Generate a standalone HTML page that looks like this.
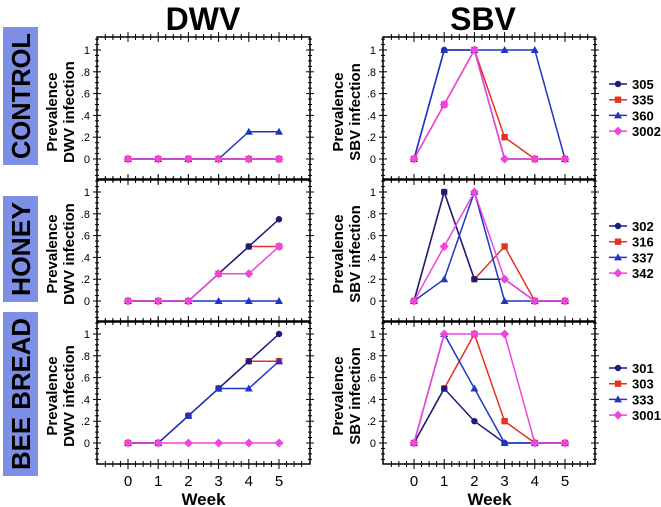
<!DOCTYPE html>
<html><head><meta charset="utf-8"><style>
body{margin:0;background:#fff;}
svg{display:block;font-family:"Liberation Sans",Arial,sans-serif;}
</style></head><body>
<svg id="c" width="661" height="507" viewBox="0 0 661 507"></svg>
<script>
const weeks=[0,1,2,3,4,5];
const yTicks=[0,0.2,0.4,0.6,0.8,1];
const yTickLabels=["0",".2",".4",".6",".8","1"];
const rowNames=["CONTROL","HONEY","BEE BREAD"];
const colNames=["DWV","SBV"];
const seriesColors=["#1c1c7e","#e3321f","#2136c4","#ee45de"];
const seriesMarkers=["circle","square","triangle","diamond"];
const legendNames=[["305","335","360","3002"],["302","316","337","342"],["301","303","333","3001"]];
const controlDWV=[[0,0,0,0,0,0],[0,0,0,0,0,0],[0,0,0,0,0.25,0.25],[0,0,0,0,0,0]];
const controlSBV=[[0,1,1,0,0,0],[0,0.5,1,0.2,0,0],[0,1,1,1,1,0],[0,0.5,1,0,0,0]];
const honeyDWV=[[0,0,0,0.25,0.5,0.75],[0,0,0,0.25,0.5,0.5],[0,0,0,0,0,0],[0,0,0,0.25,0.25,0.5]];
const honeySBV=[[0,1,0.2,0.2,0,0],[0,1,0.2,0.5,0,0],[0,0.2,1,0,0,0],[0,0.5,1,0.2,0,0]];
const breadDWV=[[0,0,0.25,0.5,0.75,1],[0,0,0.25,0.5,0.75,0.75],[0,0,0.25,0.5,0.5,0.75],[0,0,0,0,0,0]];
const breadSBV=[[0,0.5,0.2,0,0,0],[0,0.5,1,0.2,0,0],[0,1,0.5,0,0,0],[0,1,1,1,0,0]];
const data=[[controlDWV,controlSBV],[honeyDWV,honeySBV],[breadDWV,breadSBV]];
const drawOrder=[1,0,2,3];

const svg=document.getElementById('c');
const NS="http://www.w3.org/2000/svg";
function mk(tag,attrs,parent){const e=document.createElementNS(NS,tag);for(const k in attrs)e.setAttribute(k,attrs[k]);(parent||svg).appendChild(e);return e;}
const panelTops=[37,179,321];
const frameX=[[97,310],[383,595]];
const x0s=[128,414];
const wk=30.2;
function xs(c,w){return x0s[c]+w*wk;}
function ys(r,v){return panelTops[r]+122-v*109;}

function marker(g,type,x,y,col){
  let m;
  if(type==="circle")m=mk('circle',{cx:x,cy:y,r:3.2,fill:col},g);
  else if(type==="square")m=mk('rect',{x:x-3.2,y:y-3.2,width:6.4,height:6.4,fill:col},g);
  else if(type==="triangle")m=mk('polygon',{points:`${x},${y-4} ${x-4},${y+3} ${x+4},${y+3}`,fill:col},g);
  else m=mk('polygon',{points:`${x},${y-4.5} ${x+4.5},${y} ${x},${y+4.5} ${x-4.5},${y}`,fill:col},g);
  return m;
}

colNames.forEach((n,c)=>{
  const t=mk('text',{x:c?483:203,y:30,'font-size':32,'font-weight':'bold','text-anchor':'middle'});
  t.textContent=n;
  
  
});
const rowBoxes=[[27,165],[196,302],[312,476]];
rowNames.forEach((n,r)=>{
  const g=mk('g',{});
  
  
  const b=rowBoxes[r];
  mk('rect',{x:3,y:b[0],width:35,height:b[1]-b[0],fill:'#7e90e6'},g);
  const cy=(b[0]+b[1])/2;
  const t=mk('text',{x:30,y:cy,'font-size':26,'font-weight':'bold','text-anchor':'middle',textLength:b[1]-b[0]-12,lengthAdjust:'spacingAndGlyphs',transform:`rotate(-90 30 ${cy})`},g);
  t.textContent=n;
});

for(let r=0;r<3;r++){
  for(let c=0;c<2;c++){
    const g=mk('g',{});
    
    
    const top=panelTops[r],bot=top+143,L=frameX[c][0],R=frameX[c][1];
    mk('rect',{x:L,y:top,width:R-L,height:143,fill:'none',stroke:'#000','stroke-width':1.5},g);
    for(let w=-1;w<=6;w+=0.25){
      const x=xs(c,w); if(x<L+2||x>R-2)continue;
      const major=Math.abs(w-Math.round(w))<1e-6;
      const len=major?5:3;
      mk('line',{x1:x,y1:top-len,x2:x,y2:top+len,stroke:'#000','stroke-width':1},g);
      mk('line',{x1:x,y1:bot-len,x2:x,y2:bot+len,stroke:'#000','stroke-width':1},g);
    }
    for(let v=-0.2;v<=1.11;v+=0.05){
      const y=ys(r,v); if(y<top+2||y>bot-2)continue;
      const major=Math.abs(v*5-Math.round(v*5))<1e-6;
      const len=major?4:2;
      mk('line',{x1:L-len,y1:y,x2:L+len,y2:y,stroke:'#000','stroke-width':1},g);
      mk('line',{x1:R-len,y1:y,x2:R+len,y2:y,stroke:'#000','stroke-width':1},g);
    }
    yTicks.forEach((v,i)=>{
      const t=mk('text',{x:L-7,y:ys(r,v)+4,'font-size':11,'text-anchor':'end'},g);
      t.textContent=yTickLabels[i];
      
      
    });
    const ax=L-40, cy=top+75;
    const t1=mk('text',{x:ax,y:cy,'font-size':15,'font-weight':'bold','text-anchor':'middle',transform:`rotate(-90 ${ax} ${cy})`},g);
    t1.textContent="Prevalence";
    
    
    const t2=mk('text',{x:ax+17,y:cy,'font-size':15,'font-weight':'bold','text-anchor':'middle',transform:`rotate(-90 ${ax+17} ${cy})`},g);
    t2.textContent=colNames[c]+" infection";
    
    
    drawOrder.forEach(s=>{
      const vals=data[r][c][s];
      const sg=mk('g',{},g);
      
      
      const pts=vals.map((v,i)=>xs(c,weeks[i])+','+ys(r,v)).join(' ');
      mk('polyline',{points:pts,fill:'none',stroke:seriesColors[s],'stroke-width':1.5},sg);
      vals.forEach((v,i)=>{
        const m=marker(sg,seriesMarkers[s],xs(c,weeks[i]),ys(r,v),seriesColors[s]);
        
        
      });
    });
    if(r===2){
      weeks.forEach(w=>{
        const t=mk('text',{x:xs(c,w),y:486,'font-size':15,'text-anchor':'middle'},g);
        t.textContent=String(w);
        
        
      });
      const wt=mk('text',{x:(xs(c,0)+xs(c,5))/2,y:505,'font-size':17,'font-weight':'bold','text-anchor':'middle'},g);
      wt.textContent="Week";
      
      
    }
  }
  const lg=mk('g',{});
  
  
  legendNames[r].forEach((n,s)=>{
    const y=panelTops[r]+47+s*15.7;
    const eg=mk('g',{},lg);
    
    
    mk('line',{x1:609,y1:y,x2:627,y2:y,stroke:seriesColors[s],'stroke-width':1.5},eg);
    marker(eg,seriesMarkers[s],618,y,seriesColors[s]);
    const t=mk('text',{x:632,y:y+5,'font-size':13,'font-weight':'bold'},eg);
    t.textContent=n;
  });
}
</script>
</body></html>
